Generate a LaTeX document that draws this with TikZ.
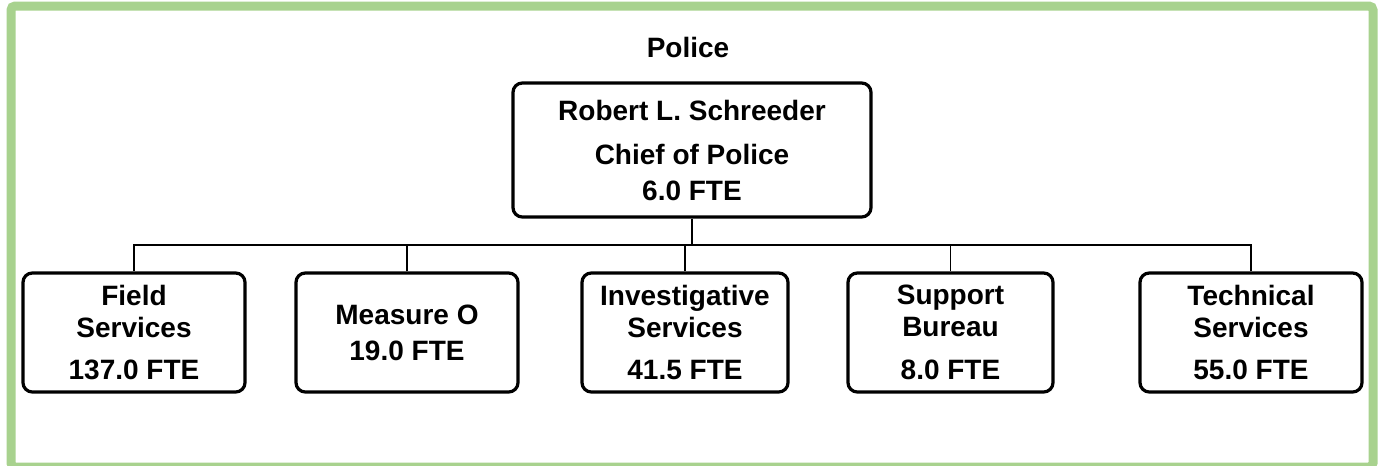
\documentclass[tikz,border=0pt]{standalone}
\usepackage{fontspec}
\setmainfont{Liberation Sans}
\usetikzlibrary{positioning}
\definecolor{framegreen}{RGB}{168,210,142}

\tikzset{
    orgbox/.style={draw, line width=2.4pt, rounded corners=7pt, align=center,
        inner sep=2pt, minimum height=89.25pt, font=\fontsize{21}{24}\selectfont\bfseries},
    link/.style={line width=1.4pt}
}

\begin{document}
\begin{tikzpicture}[x=0.75pt,y=-0.75pt]
    \useasboundingbox (0,0) rectangle (1379,465);

    % Green frame round the chart
    \draw[framegreen, line width=6.75pt, rounded corners=3pt] (11,6) rectangle (1373,467);

    % Title and head of department
    \node[font=\fontsize{21}{24}\selectfont\bfseries] (title) at (688,47) {Police};
    \node[orgbox, minimum width=268.5pt, minimum height=100.5pt] (chief) at (692,150)
        {Robert L. Schreeder\\[9pt]Chief of Police\\[3pt]6.0 FTE};

    % Bus line under the chief
    \coordinate (bus) at (692,245);
    \draw[link] (chief.south) -- (bus);

    % The five units
    \foreach \x/\w/\name/\txt in {134/166.5/field/{Field\\Services\\[8pt]137.0 FTE},
                                  407/166.5/measure/{Measure O\\[3pt]19.0 FTE},
                                  685/154.5/invest/{Investigative\\Services\\[8pt]41.5 FTE},
                                  950.5/153.75/support/{Support\\Bureau\\[8pt]8.0 FTE},
                                  1251/166.5/technical/{Technical\\Services\\[8pt]55.0 FTE}} {
        \node[orgbox, minimum width=\w pt] (\name) at (\x,332.5) {\txt};
        \draw[link] (\name.north) |- (bus);
    }
\end{tikzpicture}
\end{document}
